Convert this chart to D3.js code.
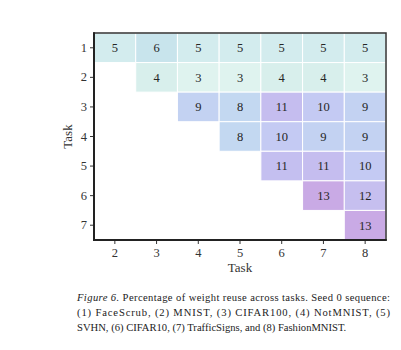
<!DOCTYPE html>
<html>
<head>
<meta charset="utf-8">
<script src="https://cdn.jsdelivr.net/npm/d3@7"></script>
<style>
  html, body { margin: 0; padding: 0; background: #fff; }
  svg { display: block; }
</style>
</head>
<body>
<svg id="chart" width="401" height="350"></svg>
<script>
// ---- data ----
const rowTasks = [1, 2, 3, 4, 5, 6, 7];
const colTasks = [2, 3, 4, 5, 6, 7, 8];
// percentage of weight reuse (row = task reused from, column = new task); null = empty
const reuseRow1 = [5, 6, 5, 5, 5, 5, 5];
const reuseRow2 = [null, 4, 3, 3, 4, 4, 3];
const reuseRow3 = [null, null, 9, 8, 11.4, 10, 9];
const reuseRow4 = [null, null, null, 8, 10, 9, 9];
const reuseRow5 = [null, null, null, null, 10.8, 11.3, 10];
const reuseRow6 = [null, null, null, null, null, 13, 12];
const reuseRow7 = [null, null, null, null, null, null, 13];
const reuseRows = [reuseRow1, reuseRow2, reuseRow3, reuseRow4, reuseRow5, reuseRow6, reuseRow7];
const captionLines = [
  "Percentage of weight reuse across tasks. Seed 0 sequence:",
  "(1) FaceScrub, (2) MNIST, (3) CIFAR100, (4) NotMNIST, (5)",
  "SVHN, (6) CIFAR10, (7) TrafficSigns, and (8) FashionMNIST."
];
const captionLabel = "Figure 6.";
const axisTitle = "Task";

// ---- layout ----
const svg = d3.select("#chart");
const pL = 94, pR = 386, pT = 33, pB = 240;
const serif = "'Liberation Serif', 'DejaVu Serif', serif";

const x = d3.scaleBand().domain(colTasks).range([pL, pR]).padding(0);
const y = d3.scaleBand().domain(rowTasks).range([pT, pB]).padding(0);

const color = d3.scaleLinear()
  .domain([3, 4, 5, 6, 8, 9, 10, 11, 12, 13])
  .range(["#dff3ef", "#d8efec", "#d3ecee", "#c8e4ec", "#c3d8f1", "#c3d2f2", "#c4caf3", "#c4bcef", "#c6bfef", "#c9aae5"])
  .clamp(true);

const cells = [];
reuseRows.forEach((row, i) => {
  row.forEach((v, j) => {
    if (v !== null) cells.push({ r: rowTasks[i], c: colTasks[j], v });
  });
});

const g = svg.append("g");
g.selectAll("rect.cell").data(cells).enter().append("rect")
  .attr("class", "cell")
  .attr("x", d => x(d.c))
  .attr("y", d => y(d.r))
  .attr("width", x.bandwidth())
  .attr("height", y.bandwidth())
  .attr("fill", d => color(d.v))
  .attr("stroke", "#ffffff")
  .attr("stroke-width", 1);

g.selectAll("text.val").data(cells).enter().append("text")
  .attr("class", "val")
  .attr("x", d => x(d.c) + x.bandwidth() / 2)
  .attr("y", d => y(d.r) + y.bandwidth() / 2)
  .attr("dy", "0.35em")
  .attr("text-anchor", "middle")
  .attr("font-family", serif)
  .attr("font-size", 12.5)
  .attr("fill", "#262626")
  .text(d => Math.round(d.v));

// axes
const xAxis = svg.append("g")
  .attr("transform", `translate(0,${pB})`)
  .call(d3.axisBottom(x).tickSize(4).tickPadding(4));
const yAxis = svg.append("g")
  .attr("transform", `translate(${pL},0)`)
  .call(d3.axisLeft(y).tickSize(4).tickPadding(3));
[xAxis, yAxis].forEach(a => {
  a.select(".domain").remove();
  a.selectAll(".tick line").attr("stroke", "#333").attr("stroke-width", 1);
  a.selectAll(".tick text")
    .attr("font-family", serif)
    .attr("font-size", 12.5)
    .attr("fill", "#333");
});

// frame
svg.append("rect")
  .attr("x", pL).attr("y", pT)
  .attr("width", pR - pL).attr("height", pB - pT)
  .attr("fill", "none").attr("stroke", "#333").attr("stroke-width", 1.5);
svg.append("line").attr("x1", pL).attr("x2", pL).attr("y1", pT - 0.75).attr("y2", pB + 1)
  .attr("stroke", "#222").attr("stroke-width", 2);
svg.append("line").attr("x1", pL - 1).attr("x2", pR + 0.75).attr("y1", pB).attr("y2", pB)
  .attr("stroke", "#222").attr("stroke-width", 2);

// axis titles
svg.append("text")
  .attr("x", (pL + pR) / 2).attr("y", 272)
  .attr("text-anchor", "middle")
  .attr("font-family", serif).attr("font-size", 13).attr("fill", "#333")
  .text(axisTitle);
svg.append("text")
  .attr("transform", `translate(72,${(pT + pB) / 2}) rotate(-90)`)
  .attr("text-anchor", "middle")
  .attr("font-family", serif).attr("font-size", 13).attr("fill", "#333")
  .text(axisTitle);

// caption
const cap = svg.append("g").attr("font-family", serif).attr("font-size", 10.6).attr("fill", "#222");
const l1 = cap.append("text").attr("x", 77).attr("y", 301)
  .attr("textLength", 313).attr("lengthAdjust", "spacing");
l1.append("tspan").attr("font-style", "italic").text(captionLabel + " ");
l1.append("tspan").text(captionLines[0]);
cap.append("text").attr("x", 77).attr("y", 316)
  .attr("textLength", 313).attr("lengthAdjust", "spacing")
  .text(captionLines[1]);
cap.append("text").attr("x", 77).attr("y", 331)
  .text(captionLines[2]);
</script>
</body>
</html>
